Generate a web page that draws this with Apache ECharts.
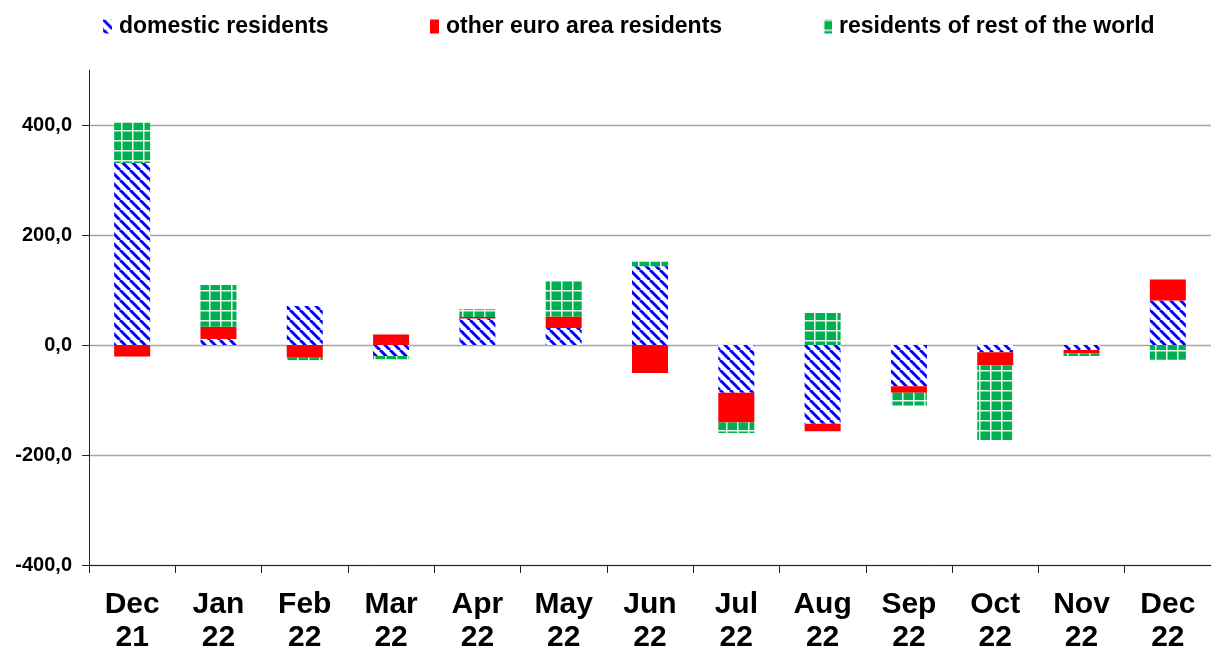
<!DOCTYPE html>
<html>
<head>
<meta charset="utf-8">
<script src="https://cdn.jsdelivr.net/npm/echarts@6/dist/echarts.min.js"></script>
<style>
  html, body { margin: 0; padding: 0; background: #fff; }
  #chart { width: 1211px; height: 654px; }
</style>
</head>
<body>
<div id="chart"></div>
<script>
const categories = ['Dec\n21', 'Jan\n22', 'Feb\n22', 'Mar\n22', 'Apr\n22', 'May\n22', 'Jun\n22',
    'Jul\n22', 'Aug\n22', 'Sep\n22', 'Oct\n22', 'Nov\n22', 'Dec\n22'];
const domestic = [331, 11, 71, -20, 48, 31, 143, -87, -143, -75, -13, -9, 81];
const otherEuro = [-21, 22, -23, 19, 3, 21, -51, -54, -14, -12, -24, -6, 38];
const restWorld = [73, 76, -5, -6, 14, 65, 9, -19, 58, -23, -136, -5, -27];
const seriesNames = ['domestic residents', 'other euro area residents', 'residents of rest of the world'];

const FONT = '"Liberation Sans", Arial, sans-serif';

// blue "\" hatch on white
function hatchPattern() {
    const s = 10;
    const c = document.createElement('canvas');
    c.width = s; c.height = s;
    const ctx = c.getContext('2d');
    ctx.fillStyle = '#fff';
    ctx.fillRect(0, 0, s, s);
    ctx.strokeStyle = '#0000ff';
    ctx.lineWidth = 3;
    for (const off of [-s, 0, s]) {
        ctx.beginPath();
        ctx.moveTo(off, 0);
        ctx.lineTo(off + s, s);
        ctx.stroke();
    }
    return c;
}

// green with white grid
function gridPattern() {
    const w = 11, h = 10;
    const c = document.createElement('canvas');
    c.width = w; c.height = h;
    const ctx = c.getContext('2d');
    ctx.fillStyle = '#00b050';
    ctx.fillRect(0, 0, w, h);
    ctx.fillStyle = '#e8f6ee';
    ctx.fillRect(0, 0, w, 1.5);
    ctx.fillRect(0, 0, 1.5, h);
    return c;
}

const fills = [
    {image: hatchPattern(), repeat: 'repeat'},
    '#ff0000',
    {image: gridPattern(), repeat: 'repeat'}
];
const values = [domestic, otherEuro, restWorld];
const legendLeft = [98, 425, 818];

const chart = echarts.init(document.getElementById('chart'), null, {renderer: 'canvas'});

chart.setOption({
    animation: false,
    legend: seriesNames.map((name, i) => ({
        data: [{name: name, icon: 'rect'}],
        left: legendLeft[i],
        top: 10,
        itemWidth: 9,
        itemHeight: 14,
        selectedMode: false,
        textStyle: {
            fontFamily: FONT,
            fontWeight: 'bold',
            fontSize: 23,
            color: '#000',
            padding: [0, 0, 0, 2]
        }
    })),
    grid: {left: 89, right: 0, top: 70, bottom: 87, containLabel: false},
    xAxis: {
        type: 'category',
        data: categories,
        axisLine: {onZero: false, lineStyle: {color: '#222', width: 1}},
        axisTick: {show: true, length: 8, interval: 0, lineStyle: {color: '#222'}},
        axisLabel: {
            interval: 0,
            margin: 23,
            fontFamily: FONT,
            fontWeight: 'bold',
            fontSize: 30,
            lineHeight: 33,
            color: '#000'
        },
        splitLine: {show: false}
    },
    yAxis: {
        type: 'value',
        min: -400,
        max: 500,
        interval: 200,
        axisLine: {show: true, lineStyle: {color: '#222', width: 1}},
        axisTick: {show: true, length: 7, lineStyle: {color: '#222'}},
        axisLabel: {
            showMaxLabel: false,
            margin: 17,
            fontFamily: FONT,
            fontWeight: 'bold',
            fontSize: 20,
            color: '#000',
            formatter: (v) => (v === 500 ? '' : v.toFixed(1).replace('.', ','))
        },
        splitLine: {show: true, showMaxLine: false, lineStyle: {color: '#a6a6a6', width: 1.3}}
    },
    series: seriesNames.map((name, i) => ({
        name: name,
        type: 'bar',
        stack: 'total',
        barWidth: 36,
        data: values[i],
        itemStyle: {color: fills[i]},
        emphasis: {disabled: true}
    }))
});
</script>
</body>
</html>
